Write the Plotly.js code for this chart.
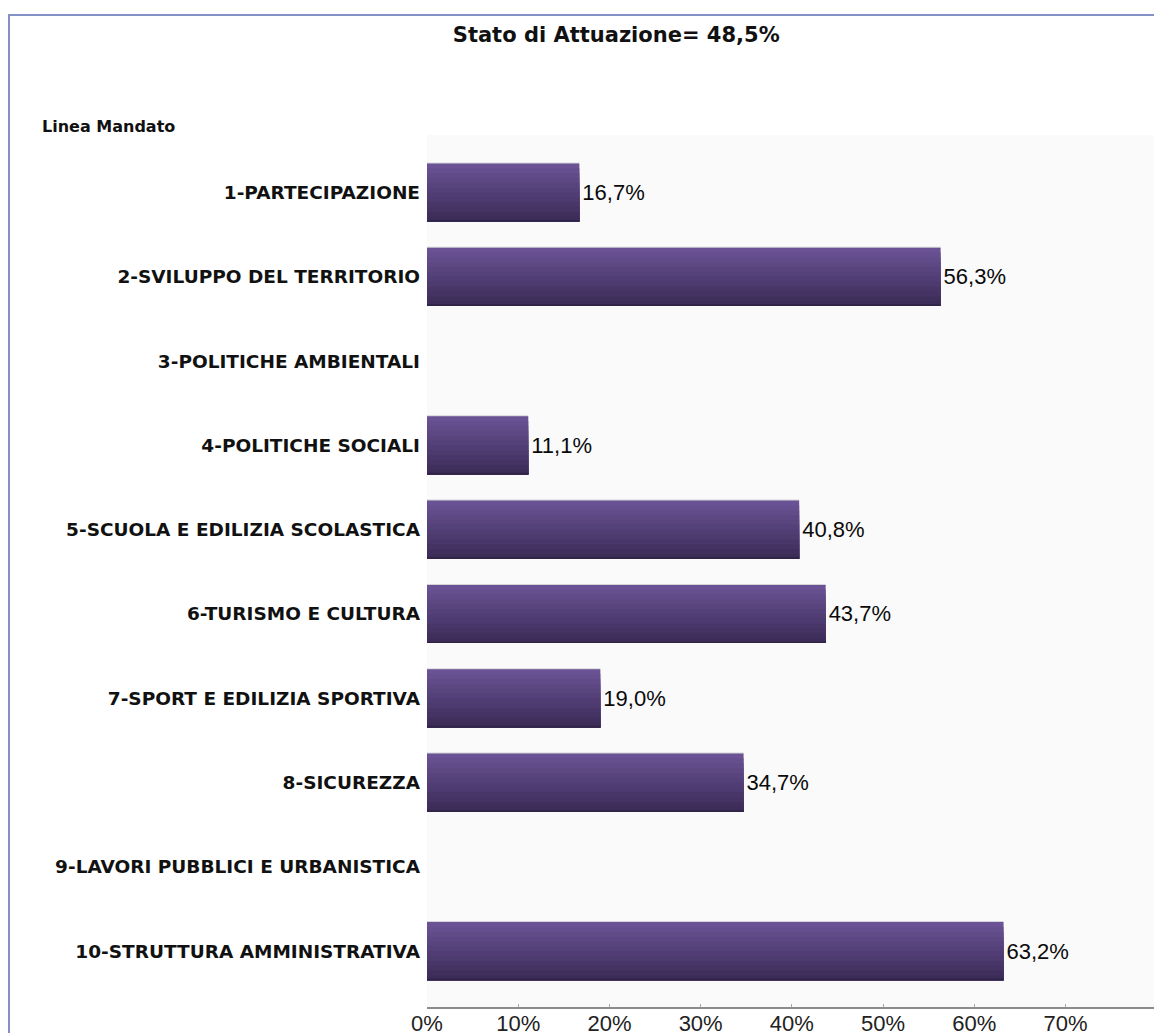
<!DOCTYPE html>
<html>
<head>
<meta charset="utf-8">
<script src="https://cdn.plot.ly/plotly-3.0.1.min.js"></script>
<style>
  html, body { margin: 0; padding: 0; background: #ffffff; }
  #wrap { position: relative; width: 1154px; height: 1033px; overflow: hidden; }
  #chart { position: absolute; left: 0; top: 0; width: 1154px; height: 1033px; }
  #frame { position: absolute; left: 8px; top: 14px; width: 1200px; height: 1100px;
           border-left: 2px solid #8391c6; border-top: 2px solid #8391c6; pointer-events: none; }
</style>
</head>
<body>
<div id="wrap">
  <div id="chart"></div>
  <div id="frame"></div>
</div>
<script>
// ---- data ----
const chartTitle = 'Stato di Attuazione= 48,5%';
const axisCaption = 'Linea Mandato';
const categories = [
  '1-PARTECIPAZIONE',
  '2-SVILUPPO DEL TERRITORIO',
  '3-POLITICHE AMBIENTALI',
  '4-POLITICHE SOCIALI',
  '5-SCUOLA E EDILIZIA SCOLASTICA',
  '6-TURISMO E CULTURA',
  '7-SPORT E EDILIZIA SPORTIVA',
  '8-SICUREZZA',
  '9-LAVORI PUBBLICI E URBANISTICA',
  '10-STRUTTURA AMMINISTRATIVA'
];
const values = [16.7, 56.3, null, 11.1, 40.8, 43.7, 19.0, 34.7, null, 63.2];
const valueLabels = ['16,7%', '56,3%', '', '11,1%', '40,8%', '43,7%', '19,0%', '34,7%', '', '63,2%'];
const tickValues = [0, 10, 20, 30, 40, 50, 60, 70];
const tickLabels = ['0%', '10%', '20%', '30%', '40%', '50%', '60%', '70%'];

// ---- style: vertical gradient emulated with nested bar layers ----
const topColor = [106, 82, 148];
const bottomColor = [60, 44, 88];
const nBands = 12;
const barWidth = 0.69;
function mix(t) {
  const c = topColor.map((v, i) => Math.round(v + (bottomColor[i] - v) * t));
  return 'rgb(' + c.join(',') + ')';
}

const traces = [];
// light top edge highlight
traces.push({
  type: 'bar', orientation: 'h', y: categories, x: values,
  offset: -barWidth / 2 - 0.012, width: barWidth + 0.012,
  marker: { color: '#d4d4d8', line: { width: 0 } },
  hoverinfo: 'skip', showlegend: false
});
for (let k = 0; k < nBands; k++) {
  const start = k * barWidth / nBands;
  const tr = {
    type: 'bar', orientation: 'h', y: categories, x: values,
    offset: -barWidth / 2 + start, width: barWidth - start,
    marker: { color: mix(k / (nBands - 1)), line: { width: 0 } },
    hoverinfo: 'skip', showlegend: false, cliponaxis: false
  };
  if (k === 0) {
    tr.text = valueLabels;
    tr.textposition = 'outside';
    tr.constraintext = 'none';
    tr.textfont = { family: 'Liberation Sans, Arial, sans-serif', size: 22, color: '#0a0a0a' };
  }
  traces.push(tr);
}
// dark bottom edge
traces.push({
  type: 'bar', orientation: 'h', y: categories, x: values,
  offset: barWidth / 2 - 0.02, width: 0.02,
  marker: { color: '#2f2346', line: { width: 0 } },
  hoverinfo: 'skip', showlegend: false
});

const layout = {
  width: 1154, height: 1033,
  margin: { l: 427, r: 0, t: 135, b: 26, pad: 0 },
  paper_bgcolor: 'rgba(0,0,0,0)',
  plot_bgcolor: '#fafafa',
  barmode: 'overlay',
  showlegend: false,
  title: {
    text: chartTitle,
    x: 0.534, xref: 'container', xanchor: 'center',
    y: 1 - 35 / 1033, yref: 'container', yanchor: 'middle',
    font: { family: 'DejaVu Sans, Verdana, sans-serif', size: 21, color: '#111111', weight: 'bold' }
  },
  xaxis: {
    range: [0, 79.7],
    tickmode: 'array', tickvals: tickValues, ticktext: tickLabels,
    showgrid: false, zeroline: false,
    showline: true, linecolor: '#8c8c8c', linewidth: 2,
    ticks: 'inside', ticklen: 3, tickcolor: '#a8a8a8', tickwidth: 1,
    ticklabelstandoff: -4,
    tickfont: { family: 'Liberation Sans, Arial, sans-serif', size: 22, color: '#222222' },
    fixedrange: true
  },
  yaxis: {
    type: 'category',
    range: [9.662, -0.682],
    showgrid: false, zeroline: false, showline: false,
    ticks: '', ticklabelstandoff: 6,
    tickfont: { family: 'DejaVu Sans, Verdana, sans-serif', size: 18.5, color: '#111111', weight: 'bold' },
    fixedrange: true
  },
  annotations: [{
    text: axisCaption,
    xref: 'paper', yref: 'paper',
    x: (40 - 427) / 727, y: 1 + 9 / 872,
    xanchor: 'left', yanchor: 'middle',
    showarrow: false,
    font: { family: 'DejaVu Sans, Verdana, sans-serif', size: 16, color: '#111111', weight: 'bold' }
  }]
};

Plotly.newPlot('chart', traces, layout, { staticPlot: true, displayModeBar: false });
</script>
</body>
</html>
